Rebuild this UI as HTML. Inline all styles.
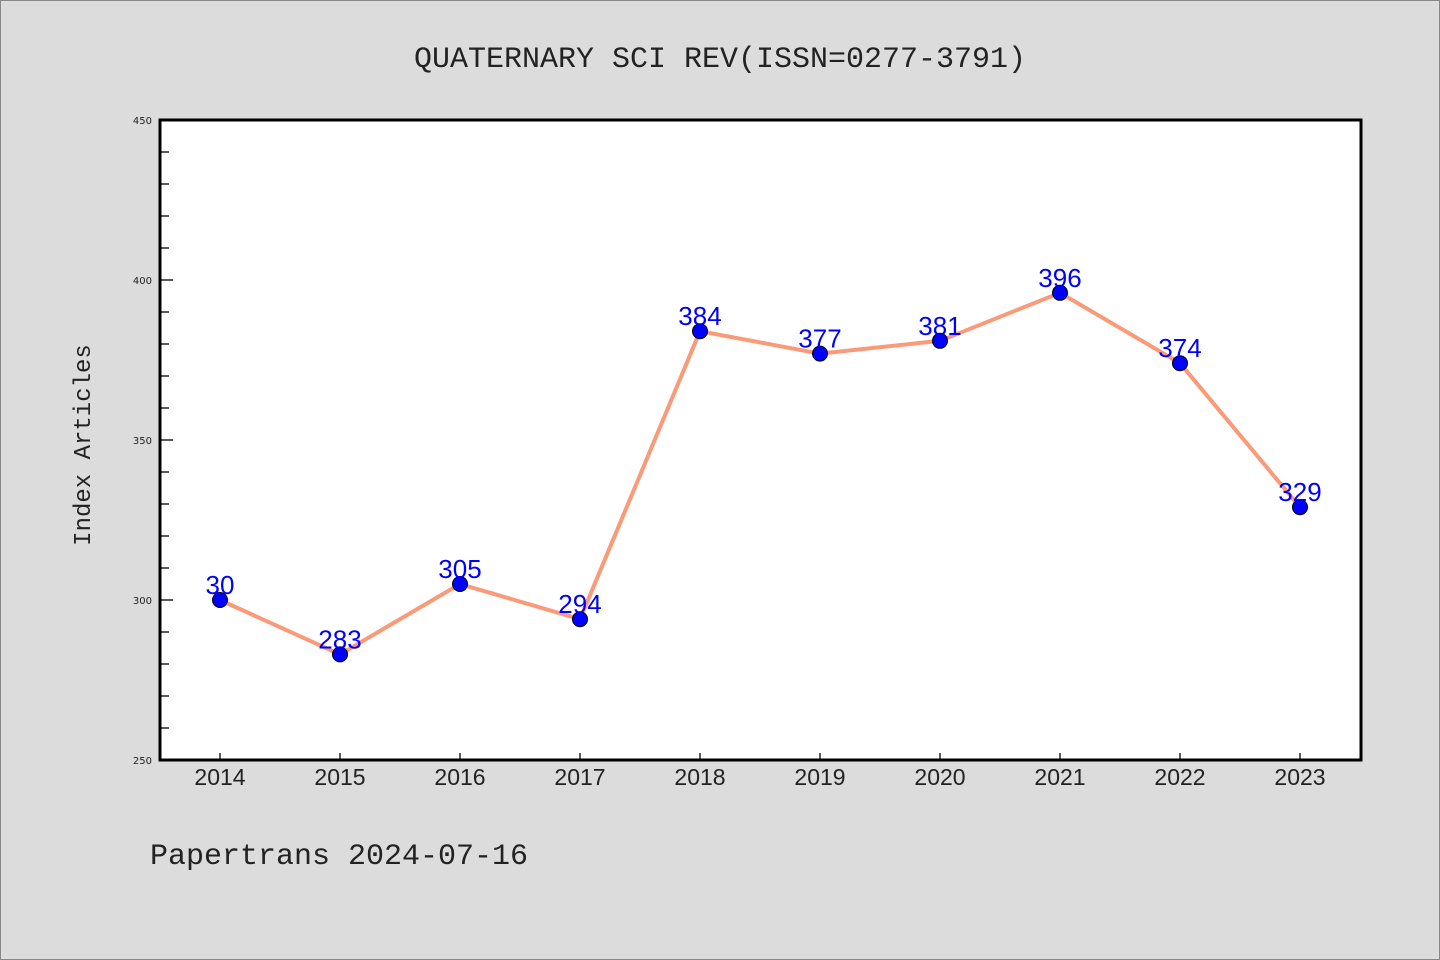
<!DOCTYPE html>
<html><head><meta charset="utf-8"><style>
html,body{margin:0;padding:0;background:#dcdcdc}
svg{display:block}
</style></head><body>
<svg width="1440" height="960" xmlns="http://www.w3.org/2000/svg">
<rect x="0.5" y="0.5" width="1439" height="959" fill="#dcdcdc" stroke="#888"/>
<text x="720" y="67" text-anchor="middle" font-family="'Liberation Mono','WenQuanYi Zen Hei',monospace" font-size="30" fill="#222">QUATERNARY SCI REV(ISSN=0277-3791)</text>
<rect x="160" y="120" width="1201" height="640" fill="#fff" stroke="#000" stroke-width="3"/>
<text transform="translate(90,445) rotate(-90)" text-anchor="middle" font-family="'Liberation Mono','WenQuanYi Zen Hei',monospace" font-size="24" fill="#222">Index Articles</text>
<text x="150" y="864" font-family="'Liberation Mono','WenQuanYi Zen Hei',monospace" font-size="30" fill="#222">Papertrans 2024-07-16</text>
<g id="axes"></g>
<g id="marks"></g>
</svg>
<script>
const years = ['2014','2015','2016','2017','2018','2019','2020','2021','2022','2023'];
const values = [300,283,305,294,384,377,381,396,374,329];
const labels = ['30','283','305','294','384','377','381','396','374','329'];
const yTicks = [250,300,350,400,450];
const NS='http://www.w3.org/2000/svg';
const x0=160,x1=1361,y0=760,y1=120,yMin=250,yMax=450;
function xs(i){return 220+i*120;}
function ys(v){return y0-(v-yMin)/(yMax-yMin)*(y0-y1);}
function mk(tag,attrs,parent){const e=document.createElementNS(NS,tag);for(const k in attrs)e.setAttribute(k,attrs[k]);parent.appendChild(e);return e;}
const axes=document.getElementById('axes'),marks=document.getElementById('marks');
for(let v=yMin+10;v<yMax;v+=10){
  const major=(v%50===0);
  const t=mk('line',{x1:161,x2:major?173:169,y1:ys(v),y2:ys(v),stroke:'#000','stroke-width':1.3},axes);
  
  
}
yTicks.forEach(v=>{
  const t=mk('text',{x:152,y:ys(v)+4,'text-anchor':'end','font-family':'DejaVu Sans,sans-serif','font-size':10,fill:'#222'},axes);
  t.textContent=v;
  
  
});
years.forEach((y,i)=>{
  const l=mk('line',{x1:xs(i),x2:xs(i),y1:753,y2:760,stroke:'#000','stroke-width':1.3},axes);
  
  
  const t=mk('text',{x:xs(i),y:785,'text-anchor':'middle','font-family':'Liberation Sans,sans-serif','font-size':23,fill:'#222'},axes);
  t.textContent=y;
  
  
});
const pts=values.map((v,i)=>xs(i)+','+ys(v)).join(' ');
const line=mk('polyline',{points:pts,fill:'none',stroke:'#fa9a78','stroke-width':4,'stroke-linejoin':'round'},marks);


values.forEach((v,i)=>{
  const c=mk('circle',{cx:xs(i),cy:ys(v),r:7.5,fill:'#0000ff',stroke:'#000','stroke-width':1},marks);
  
  
});
values.forEach((v,i)=>{
  const t=mk('text',{x:xs(i),y:ys(v)-6,'text-anchor':'middle','font-family':'Liberation Sans,sans-serif','font-size':26,fill:'#0000ff'},marks);
  t.textContent=labels[i];
  
  
});
</script>
</body></html>
